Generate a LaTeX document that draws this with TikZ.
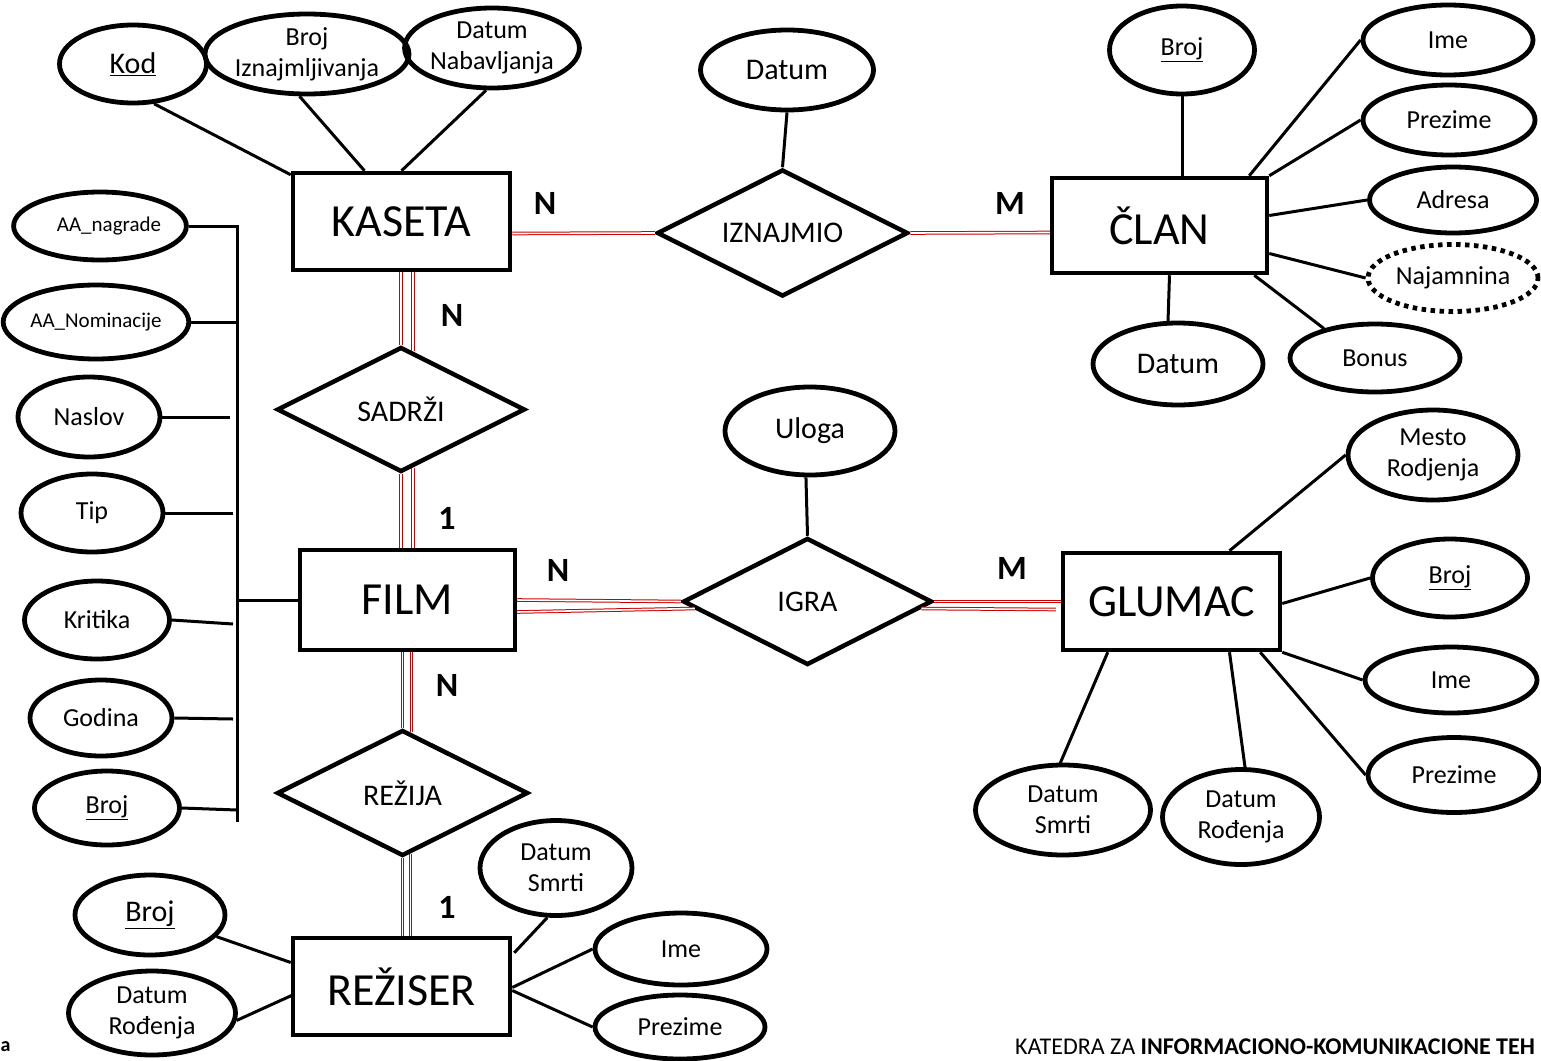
\documentclass[tikz,border=0pt]{standalone}
\usepackage{fontspec}
\setmainfont{Carlito}
\usetikzlibrary{shapes.geometric,calc}
\begin{document}
\begin{tikzpicture}[x=1pt,y=-1pt,
  ent/.style={draw, line width=4.5pt, minimum width=217, minimum height=97, inner sep=0pt, font=\fontsize{46}{50}\selectfont},
  rel/.style={draw, diamond, aspect=2, line width=4.5pt, inner sep=0pt, font=\fontsize{30}{34}\selectfont},
  attr/.style={draw, ellipse, line width=4.8pt, inner sep=0pt, align=center, font=\fontsize{26}{31}\selectfont},
  big/.style={font=\fontsize{30}{34}\selectfont},
  small/.style={font=\fontsize{21}{25}\selectfont},
  conn/.style={line width=3pt},
  rline/.style={draw=red!80!black, double=white, line width=1pt, double distance=1.6pt},
  card/.style={font=\fontsize{34}{38}\selectfont\bfseries},
  sz/.style 2 args={minimum width=#1, minimum height=#2}
]
\useasboundingbox (0,0) rectangle (1541,1060);

% entities
\node[ent] (kaseta) at (401.5,221.5) {KASETA};
\node[ent, sz={215}{95}] (clan) at (1159.5,225.5) {ČLAN};
\node[ent, sz={215}{100}] (film) at (407.5,600) {FILM};
\node[ent] (glumac) at (1171.5,601.5) {GLUMAC};
\node[ent] (rezser) at (401.5,986.5) {REŽISER};

% relationships
\node[rel, sz={251}{127}] (iznajmio) at (782.5,233) {IZNAJMIO};
\node[rel, sz={248}{125}] (sadrzi) at (401,409.5) {SADRŽI};
\node[rel, sz={249}{127}] (igra) at (807.5,601.5) {IGRA};
\node[rel, sz={251}{126}] (rezija) at (402.5,793) {REŽIJA};

% KASETA attributes
\node[attr, big, sz={147}{78}] (kod) at (133,64) {\underline{Kod}};
\node[attr, sz={170}{80}] (brojizn) at (307,54) {Broj\\Iznajmljivanja};
\node[attr, sz={170}{80}] (datumnab) at (492,48) {Datum\\Nabavljanja};
% IZNAJMIO attribute
\node[attr, big, sz={173}{80}] (izdatum) at (787,70) {Datum};
% CLAN attributes
\node[attr, sz={145}{88}] (cbroj) at (1182,50) {\underline{Broj}};
\node[attr, sz={170}{70}] (cime) at (1448,40) {Ime};
\node[attr, sz={172}{70}] (cprez) at (1449,120) {Prezime};
\node[attr, sz={167}{66}] (cadr) at (1453,200) {Adresa};
\node[attr, sz={170}{67}, dash pattern=on 4.5pt off 4.5pt] (cnaj) at (1453,278) {Najamnina};
\node[attr, sz={170}{68}] (cbon) at (1375,358) {Bonus};
\node[attr, big, sz={170}{82}] (cdat) at (1178,364) {Datum};
% FILM attributes
\node[attr, small, sz={160}{68}] (aan) at (100,226) {\hspace*{18pt}AA\_nagrade};
\node[attr, small, sz={175}{74}] (aanom) at (96,322) {AA\_Nominacije};
\node[attr, sz={142}{80}] (naslov) at (89,417) {Naslov};
\node[attr, sz={142}{78}] (tip) at (92,513) {Tip};
\node[attr, sz={145}{78}] (kritika) at (97,620) {Kritika};
\node[attr, sz={142}{76}] (godina) at (101,718) {Godina};
\node[attr, sz={145}{74}] (fbroj) at (107,808) {\underline{Broj}};
% IGRA attribute
\node[attr, big, sz={170}{88}] (uloga) at (810,431) {Uloga};
% GLUMAC attributes
\node[attr, sz={170}{90}] (mesto) at (1433,455) {Mesto\\Rodjenja};
\node[attr, sz={155}{78}] (gbroj) at (1450,578) {\underline{Broj}};
\node[attr, sz={172}{66}] (gime) at (1451,680) {Ime};
\node[attr, sz={172}{75}] (gprez) at (1454,775) {Prezime};
\node[attr, sz={157}{95}] (gdrod) at (1241,817) {Datum\\Rođenja};
\node[attr, sz={175}{90}] (gdsm) at (1063,810) {Datum\\Smrti};
% REZISER attributes
\node[attr, big, sz={150}{80}] (rbroj) at (150,915) {\underline{Broj}};
\node[attr, sz={167}{84}] (rdrod) at (152,1013) {Datum\\Rođenja};
\node[attr, sz={152}{95}] (rdsm) at (556,868) {Datum\\Smrti};
\node[attr, sz={172}{72}] (rime) at (681,949) {Ime};
\node[attr, sz={170}{64}] (rprez) at (680,1027) {Prezime};

% attribute connectors
\draw[conn] (kod.-62) -- ($(kaseta.north west)+(0,4)$);
\draw[conn] (brojizn.-100) -- ($(kaseta.north)+(-37,0)$);
\draw[conn] (datumnab.-98) -- ($(kaseta.north)+(0,0)$);
\draw[conn] (izdatum.south) -- (iznajmio.north);

\draw[conn] (cbroj.south) -- (cbroj.south |- clan.north);
\draw[conn] (cime.west) -- ($(clan.north east)+(-20,0)$);
\draw[conn] (cprez.west) -- (clan.north east);
\draw[conn] (cadr.west) -- ($(clan.east)+(0,-10)$);
\draw[conn] ($(clan.east)+(0,28)$) -- (cnaj.west);
\draw[conn] ($(clan.south east)+(-15,0)$) -- (cbon.150);
\draw[conn] ($(clan.south)+(10,0)$) -- ($(cdat.north)+(-10,1)$);

\coordinate (busT) at (237,226);
\coordinate (busB) at (237,822);
\draw[conn] (aan.east) -| (busB);
\draw[conn] (aanom.east) -- (aanom.east -| busT);
\draw[conn] (naslov.east) -- ($(naslov.east -| busT)+(-7,0)$);
\draw[conn] (tip.east) -- ($(tip.east -| busT)+(-4,0)$);
\draw[conn] (kritika.east) -- ($(kritika.east -| busT)+(-4,4)$);
\draw[conn] (godina.east) -- ($(godina.east -| busT)+(-4,1)$);
\draw[conn] (fbroj.east) -- ($(fbroj.east -| busT)+(0,2)$);
\draw[conn] (film.west) -- (film.west -| busT);

\draw[conn] (uloga.-95) -- (igra.north);

\draw[conn] (mesto.west) -- ($(glumac.north)+(58,0)$);
\draw[conn] (gbroj.west) -- ($(glumac.east)+(0,2)$);
\draw[conn] (gime.west) -- (glumac.south east);
\draw[conn] (gprez.west) -- ($(glumac.south east)+(-22,0)$);
\draw[conn] ($(glumac.south)+(58,0)$) -- ($(gdrod.north)+(4,0)$);
\draw[conn] ($(glumac.south west)+(47,0)$) -- ($(gdsm.north)+(-3,1)$);

\draw[conn] (rbroj.-18) -- ($(rezser.west)+(0,-24)$);
\draw[conn] (rdrod.-5) -- ($(rezser.west)+(3,8)$);
\draw[conn] (rdsm.-100) -- ($(rezser.north east)+(2,17)$);
\draw[conn] (rime.west) -- ($(rezser.east)+(0,1)$);
\draw[conn] (rprez.west) -- ($(rezser.east)+(0,4)$);

% relationship connectors (red double lines)
\draw[rline] ($(kaseta.east)+(0,12)$) -- (iznajmio.west);
\draw[rline] (iznajmio.east) -- ($(clan.west)+(0,7)$);

\draw[rline] (sadrzi.north |- kaseta.south) -- (sadrzi.north);
\draw[rline] ($(sadrzi.north |- kaseta.south)+(12,0)$) -- ($(sadrzi.north)+(12,6)$);
\draw[rline] (sadrzi.south) -- (sadrzi.south |- film.north);
\draw[rline] ($(sadrzi.south)+(12,-6)$) -- ($(sadrzi.south |- film.north)+(12,0)$);

\draw[rline] (rezija.north |- film.south) -- (rezija.north);
\draw[rline] ($(rezija.north |- film.south)+(9,0)$) -- ($(rezija.north)+(9,4.5)$);
\draw[rline] (rezija.south) -- (rezija.south |- rezser.north);
\draw[rline] ($(rezija.south)+(8,-4)$) -- ($(rezija.south |- rezser.north)+(8,0)$);

\draw[rline] (film.east) -- (igra.west);
\draw[rline] ($(film.east)+(0,12)$) -- ($(igra.west)+(14,7)$);
\draw[rline] (igra.east) -- (glumac.west);
\draw[rline] ($(igra.east)+(-13,7)$) -- ($(glumac.west)+(-5,8)$);

% cardinalities
\node[card] (c1) at (545,203) {N};
\node[card] (c2) at (1010,203) {M};
\node[card] (c3) at (452,315) {N};
\node[card] (c4) at (447,518) {1};
\node[card] (c5) at (558,570) {N};
\node[card] (c6) at (1012,568) {M};
\node[card] (c7) at (447,685) {N};
\node[card] (c8) at (447,907) {1};

% footer
\node[anchor=west, inner sep=0pt, font=\fontsize{24}{28}\selectfont] (footer) at (1015,1047) {KATEDRA ZA \textbf{INFORMACIONO-KOMUNIKACIONE TEH}};
\node[anchor=west, inner sep=0pt, font=\fontsize{20}{24}\selectfont\bfseries] (cut) at (0.5,1047) {a};
\end{tikzpicture}
\end{document}
